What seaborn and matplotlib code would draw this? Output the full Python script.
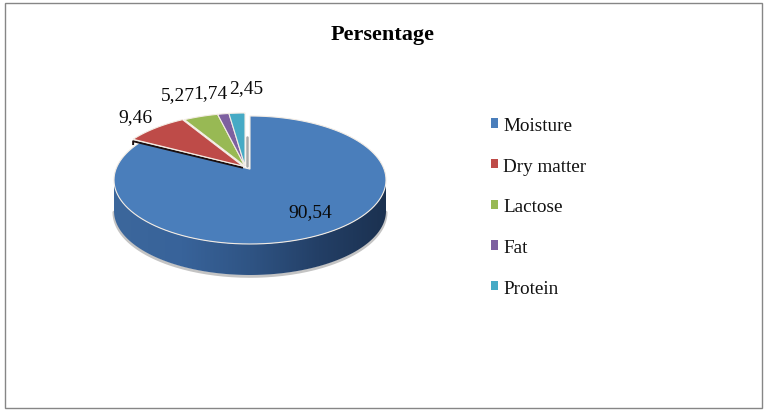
import numpy as np
import matplotlib
matplotlib.use('Agg')
import matplotlib.pyplot as plt
from matplotlib.patches import Polygon, Rectangle
import seaborn as sns

# chart values
categories = ['Moisture', 'Dry matter', 'Lactose', 'Fat', 'Protein']
values = [90.54, 9.46, 5.27, 1.74, 2.45]
value_labels = ['90,54', '9,46', '5,27', '1,74', '2,45']
colors = ['#4a7ebb', '#be4b48', '#98b954', '#7d60a0', '#46aac5']
side_colors = ['#3c679c', '#38639a', '#2f5484', '#233f66', '#1b3150']

# label anchors in image pixels
label_px = [(288, 213), (118, 118), (161, 96), (193, 94), (229, 89)]
# how far each slice is pulled out, in pixels
slice_shift_px = [(0, 0), (-7, 3), (-5, 3), (-5, 3), (-5, 3)]

W, H = 766, 414
CX, CY = 250, 181      # ellipse centre in pixels
RX, RY = 136, 64       # ellipse radii in pixels
DEPTH = 31 / RY        # height of the pie wall
TILT = 0.17            # perspective, pushes the apex up

sns.set_theme(style='white')
plt.rcParams['font.family'] = ['Liberation Serif', 'DejaVu Serif']

fig = plt.figure(figsize=(W / 100, H / 100), dpi=100, facecolor='white')
ax = fig.add_axes([0, 0, 1, 1])

wedges, _ = ax.pie(values, startangle=90, counterclock=False, radius=1, center=(0, 0))
angles = [(w.theta1, w.theta2) for w in wedges]
for w in wedges:
    w.remove()


def warp(u, v):
    # projective map of the unit disc onto itself
    d = 1 + TILT * v
    return u * np.sqrt(1 - TILT ** 2) / d, (v + TILT) / d


def slice_outline(t1, t2, shift=(0, 0)):
    t = np.radians(np.linspace(t1, t2, 120))
    u = np.r_[0, np.cos(t)]
    v = np.r_[0, np.sin(t)]
    x, y = warp(u, v)
    return np.c_[x + shift[0], y + shift[1]]


# side wall with its horizontal gradient
t = np.linspace(np.pi, 2 * np.pi, 200)
rim_x, rim_y = np.cos(t), np.sin(t)
wall = np.r_[np.c_[rim_x, rim_y], np.c_[rim_x, rim_y - DEPTH][::-1]]
ax.plot(rim_x, rim_y - DEPTH - 0.02, color='#c4c4c4', lw=2.2, zorder=1)
wall_patch = Polygon(wall, closed=True, fc='none', ec='none', zorder=2)
ax.add_patch(wall_patch)
cmap = sns.blend_palette(side_colors, as_cmap=True)
grad = ax.imshow(np.linspace(0, 1, 256)[None, :], extent=(-1, 1, -1.6, 0), cmap=cmap,
                 aspect='auto', zorder=2)
grad.set_clip_path(wall_patch)

# slices on top
handles = []
for i, (t1, t2) in enumerate(angles):
    shift = (slice_shift_px[i][0] / RX, slice_shift_px[i][1] / RY)
    outline = slice_outline(t1, t2, shift)
    if i == 1:
        # dark inner wall below the dry matter slice
        ax.plot([outline[0, 0], outline[-1, 0], outline[-1, 0]],
                [outline[0, 1] - 0.025, outline[-1, 1] - 0.03, outline[-1, 1] - 0.09],
                color='#1c0f0f', lw=1.4, zorder=4, solid_capstyle='butt')
    p = Polygon(outline, closed=True, fc=colors[i], ec='#f3ece4', lw=0.8, zorder=4, label=categories[i])
    ax.add_patch(p)
    handles.append(p)

# grey inner wall next to the protein slice
edge = slice_outline(*angles[4], (slice_shift_px[4][0] / RX, slice_shift_px[4][1] / RY))
ax.plot([edge[0, 0] + 0.016] * 2, [edge[0, 1], edge[0, 1] + 0.45], color='#a9a9a9', lw=1.8, zorder=5)

ax.set_aspect('auto')
ax.set_xlim(-CX / RX, (W - CX) / RX)
ax.set_ylim((CY - H) / RY, CY / RY)
ax.axis('off')

# data labels
for text, (px, py) in zip(value_labels, label_px):
    fig.text(px / W, 1 - py / H, text, fontsize=14, color='#0a0a0a', va='center', ha='left')

fig.text(383 / W, 1 - 35 / H, 'Persentage', fontsize=16, fontweight='bold', color='black',
         ha='center', va='center')

leg = fig.legend(handles=handles, loc='upper left', bbox_to_anchor=(491 / W, 1 - 118 / H), frameon=False,
                 fontsize=13.8, handlelength=0.37, handleheight=0.37, handletextpad=0.26,
                 labelspacing=1.235, labelcolor='#111111', borderpad=0, borderaxespad=0)
for h, c in zip(leg.legend_handles, colors):
    h.set_edgecolor('none')
    h.set_facecolor(c)

# outer frame
fig.add_artist(Rectangle((4.5 / W, 1 - 408.5 / H), 757 / W, 405 / H, transform=fig.transFigure,
                         fc='none', ec='#868686', lw=1.0))

fig.savefig('out.png', dpi=100)
